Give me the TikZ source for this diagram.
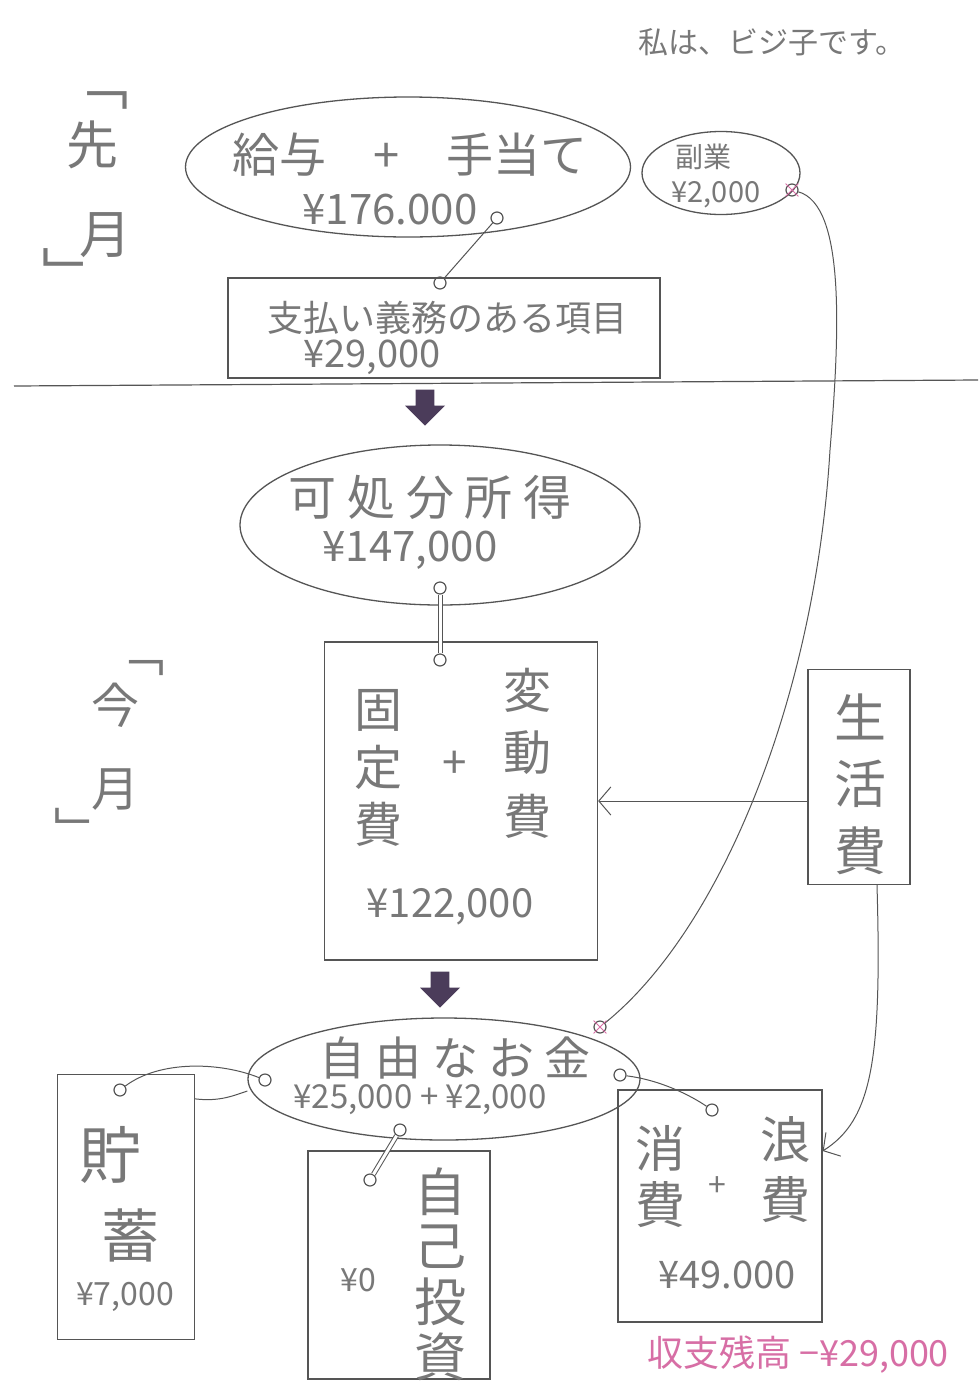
\documentclass[tikz,border=0pt]{standalone}
\usepackage{fontspec}
\setmainfont{Noto Sans CJK JP}
\usetikzlibrary{shapes.geometric,shapes.arrows,shapes.misc,arrows.meta}
\definecolor{pencil}{RGB}{85,85,85}
\definecolor{lead}{RGB}{120,120,120}
\definecolor{ink}{RGB}{75,60,90}
\definecolor{rouge}{RGB}{215,110,165}
\newcommand\fsz[1]{\fontsize{#1}{#1}\selectfont}

\begin{document}
\begin{tikzpicture}[x=1pt,y=-1pt,
  blob/.style={ellipse,draw=pencil,line width=1.3,inner sep=0},
  tag/.style={draw=pencil,line width=1.3,inner sep=0},
  hole/.style={circle,draw=pencil,line width=1.2,minimum size=12,inner sep=0},
  txt/.style={text=lead,inner sep=0},
  fat/.style={single arrow,fill=ink,shape border rotate=270,minimum height=36,minimum width=40,inner sep=6},
  wire/.style={pencil,line width=1},
  barb/.style={-{Straight Barb[length=12pt,width=28pt,line width=1pt]}},
  tick/.style={cross out,draw=rouge,line width=0.8,minimum size=12,inner sep=0}]
  \fill[white] (0,0) rectangle (979,1382);
  \useasboundingbox (0,0) rectangle (979,1382);

  % last month
  \node[txt,font=\fsz{30}] (me) at (772,42) {私は、ビジ子です。};
  \node[txt,font=\fsz{56}] (lmA) at (100,100) {﹁};
  \node[txt,font=\fsz{52}] (lmB) at (92,145) {先};
  \node[txt,font=\fsz{52}] (lmC) at (105,235) {月};
  \node[txt,font=\fsz{56}] (lmD) at (70,272) {﹂};

  \node[blob,minimum width=445,minimum height=140] (sal) at (408,167) {};
  \node[txt,font=\fsz{47}] (salT) at (410,155) {給与\quad{}+\quad{}手当て};
  \node[txt,font=\fsz{42}] (salV) at (390,210) {¥176.000};
  \node[hole] (salH) at (497,218) {};

  \node[blob,minimum width=158,minimum height=83] (fuku) at (721,173) {};
  \node[txt,font=\fsz{28}] (fukuT) at (703,157) {副業};
  \node[txt,font=\fsz{29}] (fukuV) at (716,195) {¥2,000};
  \node[hole] (fukuH) at (792,190) {};

  \node[tag,minimum width=432,minimum height=100] (pay) at (444,328) {};
  \node[txt,font=\fsz{36}] (payT) at (447,318) {支払い義務のある項目};
  \node[txt,font=\fsz{38}] (payV) at (372,357) {¥29,000};
  \node[hole] (payH) at (440,283) {};

  \draw[pencil,line width=1.2] (14,386) -- (978,380);

  % this month
  \node[txt,font=\fsz{48}] (tmA) at (140,668) {﹁};
  \node[txt,font=\fsz{48}] (tmB) at (115,705) {今};
  \node[txt,font=\fsz{48}] (tmC) at (115,790) {月};
  \node[txt,font=\fsz{48}] (tmD) at (78,828) {﹂};

  \node[fat] (down1) at (425,403) {};

  \node[blob,minimum width=400,minimum height=160] (disp) at (440,525) {};
  \node[txt,font=\fsz{48}] (dispT) at (430,497) {可 処 分 所 得};
  \node[txt,font=\fsz{42}] (dispV) at (410,550) {¥147,000};
  \node[hole] (dispH) at (440,588) {};

  \node[tag,minimum width=273,minimum height=318] (fix) at (461,801) {};
  \node[hole] (fixH) at (440,660) {};
  \foreach \c [count=\i] in {固,定,費}
    \node[txt,font=\fsz{48}] (fixL\i) at (378,653+57*\i) {\c};
  \foreach \c [count=\i] in {変,動,費}
    \node[txt,font=\fsz{48}] (fixR\i) at (527,627+63*\i) {\c};
  \node[txt,font=\fsz{44}] (fixP) at (455,765) {+};
  \node[txt,font=\fsz{40}] (fixV) at (450,907) {¥122,000};

  \node[tag,minimum width=102,minimum height=215] (liv) at (859,777) {};
  \foreach \c [count=\i] in {生,活,費}
    \node[txt,font=\fsz{52}] (liv\i) at (860,650+67*\i) {\c};

  \node[fat] (down2) at (440,985) {};

  \node[blob,minimum width=392,minimum height=122] (free) at (444,1079) {};
  \node[txt,font=\fsz{46}] (freeT) at (455,1058) {自 由 な お 金};
  \node[txt,font=\fsz{33}] (freeV) at (420,1100) {¥25,000 + ¥2,000};
  \node[hole] (freeA) at (600,1027) {};
  \node[hole] (freeL) at (265,1080) {};
  \node[hole] (freeR) at (620,1075) {};
  \node[hole] (freeB) at (400,1130) {};

  \node[tag,minimum width=137,minimum height=265] (chok) at (126,1207) {};
  \node[txt,font=\fsz{62}] (chok1) at (110,1155) {貯};
  \node[txt,font=\fsz{58}] (chok2) at (130,1235) {蓄};
  \node[txt,font=\fsz{32}] (chokV) at (125,1297) {¥7,000};
  \node[hole] (chokH) at (120,1090) {};

  \node[tag,minimum width=182,minimum height=228] (jiko) at (399,1265) {};
  \foreach \c [count=\i] in {自,己,投,資}
    \node[txt,font=\fsz{52}] (jiko\i) at (440,1137+55*\i) {\c};
  \node[txt,font=\fsz{32}] (jikoV) at (358,1280) {¥0};
  \node[hole] (jikoH) at (370,1180) {};

  \node[tag,minimum width=204,minimum height=232] (sho) at (720,1206) {};
  \foreach \c [count=\i] in {消,費}
    \node[txt,font=\fsz{50}] (shoL\i) at (660,1091+57*\i) {\c};
  \foreach \c [count=\i] in {浪,費}
    \node[txt,font=\fsz{50}] (shoR\i) at (785,1080+60*\i) {\c};
  \node[txt,font=\fsz{32}] (shoP) at (717,1187) {+};
  \node[txt,font=\fsz{38}] (shoV) at (727,1275) {¥49.000};
  \node[hole] (shoH) at (712,1110) {};

  \node[txt,text=rouge,font=\fsz{36}] (bal) at (798,1355) {収支残高 −¥29,000};

  % strings and arrows
  \draw[wire] (salH) -- (payH);
  \draw[wire,double=white,double distance=3pt] (dispH) -- (fixH);
  \draw[wire,double=white,double distance=3pt] (freeB) -- (jikoH);
  \draw[wire] (fukuH) .. controls (845,205) and (840,330) .. (830,450)
    .. controls (815,700) and (720,930) .. (freeA);
  \draw[wire] (freeL) .. controls (220,1062) and (160,1060) .. (chokH);
  \draw[wire] ([yshift=-25pt]chok.north east) .. controls (220,1102) and (235,1095) .. ([yshift=-12pt]free.west);
  \draw[wire] (freeR) .. controls (660,1080) and (690,1095) .. (shoH);
  \draw[wire,barb] (liv.west |- fix.east) -- (fix.east);
  \draw[wire,barb] ([xshift=18pt]liv.south) .. controls (882,1060) and (872,1120) .. ([yshift=55pt]sho.east);
  \node[tick] (mk1) at (fukuH) {};
  \node[tick] (mk2) at (freeA) {};
\end{tikzpicture}
\end{document}
